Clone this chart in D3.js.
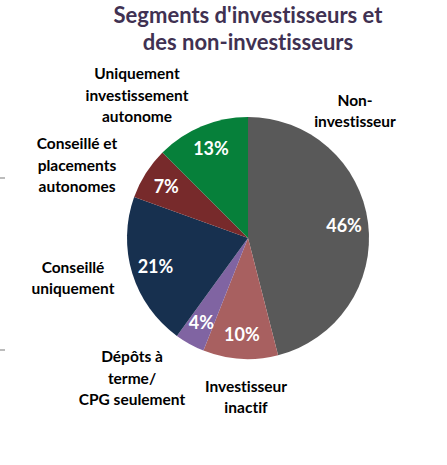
<!DOCTYPE html>
<html>
<head>
<meta charset="utf-8">
<script src="https://cdn.jsdelivr.net/npm/d3@7"></script>
<style>
  body { margin: 0; background: #fff; }
  text { font-family: Lato, "Open Sans", sans-serif; font-weight: bold; font-variant-ligatures: none; }
</style>
</head>
<body>
<div id="chart"></div>
<script>
// data
const segments = ["Non-investisseur", "Investisseur inactif", "Dépôts à terme/ CPG seulement",
                  "Conseillé uniquement", "Conseillé et placements autonomes", "Uniquement investissement autonome"];
const shares = [46, 10, 4, 20.5, 7, 12.5];
const sliceLabels = ["Non-|investisseur", "Investisseur|inactif", "Dépôts à|terme/|CPG seulement",
                     "Conseillé|uniquement", "Conseillé et|placements|autonomes", "Uniquement|investissement|autonome"];
const titleLines = ["Segments d'investisseurs et", "des non-investisseurs"];

const colours = ["#595959", "#a86060", "#8064a2", "#17304f", "#772a2b", "#06803a"];
// where each outer label block sits, relative to the pie centre
const labelOffsets = [[107, -127], [-2, 159], [-116, 140], [-175, 40], [-171, -73], [-111, -143]];

const width = 447, height = 465;
const cx = 248, cy = 238, radius = 121;

var svg = d3.select('#chart')
    .append('svg')
    .attr('width', width)
    .attr('height', height);

svg.append('g')
    .selectAll('text')
    .data(titleLines)
    .enter()
    .append('text')
    .attr('x', cx)
    .attr('y', (d, i) => 23 + i * 27)
    .attr('text-anchor', 'middle')
    .attr('fill', '#403152')
    .attr('font-size', 22)
    .text(d => d);

// stray tick marks on the left edge
svg.selectAll('line.stray')
    .data([178, 350])
    .enter()
    .append('line')
    .attr('class', 'stray')
    .attr('x1', 0).attr('x2', 5)
    .attr('y1', d => d).attr('y2', d => d)
    .attr('stroke', '#a6a6a6')
    .attr('stroke-width', 1.5);

var pie = d3.pie().sort(null).value(d => d);
var arcs = pie(shares);
var arc = d3.arc().innerRadius(0).outerRadius(radius);
var inner = d3.arc().innerRadius(radius * 0.8).outerRadius(radius * 0.8);

var g = svg.append('g').attr('transform', 'translate(' + cx + ',' + cy + ')');

g.selectAll('path')
    .data(arcs)
    .enter()
    .append('path')
    .attr('d', arc)
    .attr('fill', (d, i) => colours[i]);

g.selectAll('text.pct')
    .data(arcs)
    .enter()
    .append('text')
    .attr('class', 'pct')
    .attr('transform', d => 'translate(' + inner.centroid(d) + ')')
    .attr('text-anchor', 'middle')
    .attr('dy', '0.36em')
    .attr('fill', '#fff')
    .attr('font-size', 18)
    .text(d => Math.round(d.value) + '%');

var outer = g.selectAll('g.lab')
    .data(sliceLabels)
    .enter()
    .append('g')
    .attr('class', 'lab')
    .attr('transform', (d, i) => 'translate(' + labelOffsets[i] + ')');

outer.each(function(d) {
    var lines = d.split('|');
    var n = lines.length;
    d3.select(this).selectAll('text')
        .data(lines)
        .enter()
        .append('text')
        .attr('text-anchor', 'middle')
        .attr('y', (l, j) => (j - (n - 1) / 2) * 21.5)
        .attr('dy', '0.36em')
        .attr('fill', '#000')
        .attr('font-size', 15.5)
        .text(l => l);
});
</script>
</body>
</html>
